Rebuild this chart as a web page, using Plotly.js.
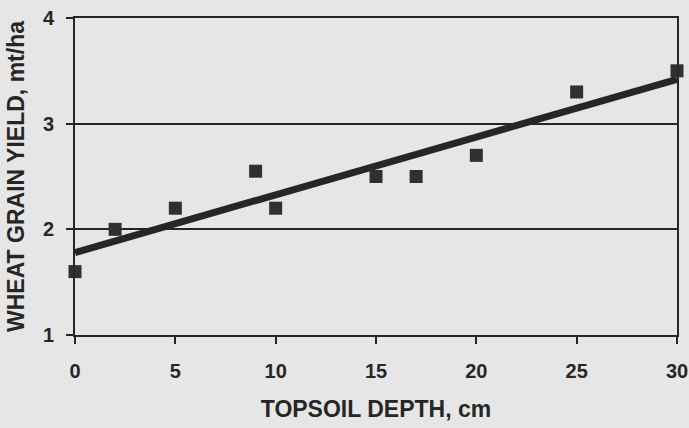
<!DOCTYPE html>
<html>
<head>
<meta charset="utf-8">
<script src="https://cdn.plot.ly/plotly-3.0.1.min.js"></script>
<style>html,body{margin:0;padding:0;background:#e6e6e6;}</style>
</head>
<body>
<div id="chart" style="width:689px;height:428px;"></div>
<script>
const depth = [0, 2, 5, 9, 10, 15, 17, 20, 25, 30];
const yieldVals = [1.6, 2.0, 2.2, 2.55, 2.2, 2.5, 2.5, 2.7, 3.3, 3.5];
const trendX = [0, 30];
const trendY = [1.78, 3.42];
const xTicks = [0, 5, 10, 15, 20, 25, 30];
const yTicks = [1, 2, 3, 4];

const ink = '#262626';
const fam = 'Liberation Sans, Arial, sans-serif';
const tickFont = {family: fam, size: 20, color: ink, weight: 'bold'};
const titleFont = {family: fam, size: 23, color: ink, weight: 'bold'};

Plotly.newPlot('chart', [
  {x: trendX, y: trendY, mode: 'lines', line: {color: ink, width: 7}, hoverinfo: 'none', cliponaxis: false},
  {x: depth, y: yieldVals, mode: 'markers', marker: {symbol: 'square', size: 13, color: '#303030'}, hoverinfo: 'none', cliponaxis: false}
], {
  width: 689, height: 428,
  paper_bgcolor: '#e6e6e6', plot_bgcolor: '#e6e6e6',
  margin: {l: 75, r: 12, t: 18, b: 93},
  showlegend: false,
  font: tickFont,
  xaxis: {
    range: [0, 30], tickvals: xTicks, ticktext: xTicks.map(String),
    showgrid: false, zeroline: false,
    showline: true, linecolor: ink, linewidth: 2, mirror: true,
    ticks: 'outside', ticklen: 7, tickwidth: 2, tickcolor: ink,
    tickfont: tickFont, ticklabelstandoff: 10,
    title: {text: 'TOPSOIL DEPTH, cm', font: titleFont, standoff: 20}
  },
  yaxis: {
    range: [1, 4], tickvals: yTicks, ticktext: yTicks.map(String),
    showgrid: true, gridcolor: ink, gridwidth: 2, zeroline: false,
    showline: true, linecolor: ink, linewidth: 2, mirror: true,
    ticks: 'outside', ticklen: 7, tickwidth: 2, tickcolor: ink,
    tickfont: tickFont, ticklabelstandoff: 8,
    title: {text: 'WHEAT GRAIN YIELD, mt/ha', font: titleFont, standoff: 12}
  }
}, {staticPlot: true});
</script>
</body>
</html>
